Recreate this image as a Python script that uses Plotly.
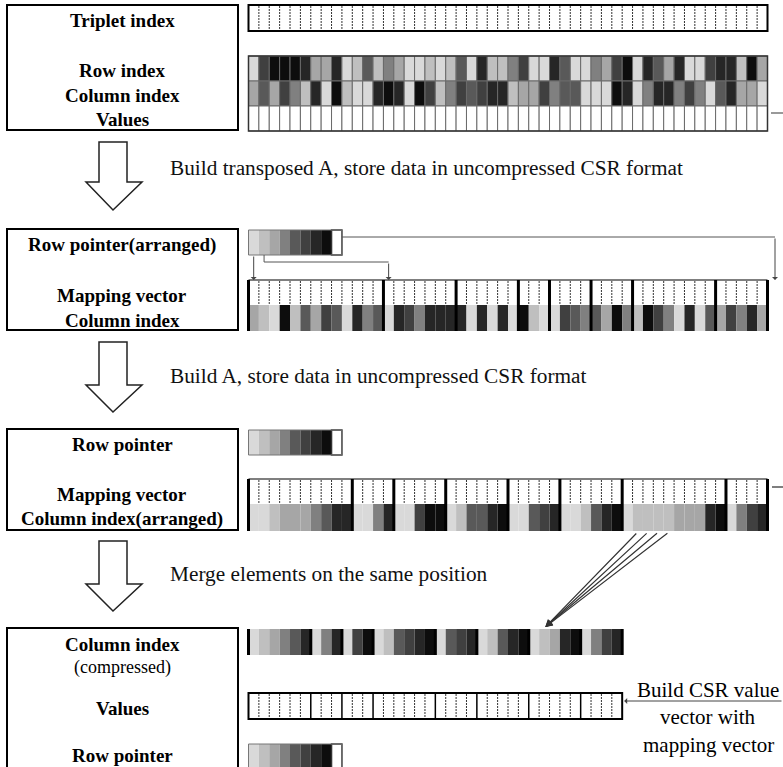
import plotly.graph_objects as go

# ---------------- data ----------------
PALETTE = ["#d9d9d9", "#bfbfbf", "#a6a6a6", "#808080", "#595959", "#404040", "#262626", "#0d0d0d", "#ffffff"]

# Section 1: triplet format (grey level of each entry)
row_index = [0,5,7,7,7,6,2,2,6,0, 1,4,1,3,2,0,0,1,0,1, 4,0,6,1,1,3,5,0,0,6,
             4,0,0,3,2,5,7,0,6,4, 2,6,0,0,5,6,6,1,7,2]
col_index = [2,4,2,5,3,1,6,0,7,1, 0,0,6,7,6,0,7,5,1,3, 5,4,5,6,6,1,2,2,5,3,
             4,4,0,0,0,7,6,0,3,6, 6,3,5,3,0,4,6,2,2,0]

# Row pointer (8 rows + end marker)
row_pointer = [0, 1, 2, 3, 4, 5, 6, 7, 8]

# Section 2: transposed A, uncompressed CSR
t_group_sizes = [13, 7, 6, 3, 4, 4, 8, 5]
t_col_index = [2,1,0,7,1,4,2,5,4,0,6,3,4, 0,6,5,3,6,6,6, 6,0,6,0,6,0, 7,1,0,
               0,5,4,3, 4,2,7,3, 1,7,5,3,0,6,0,4, 2,5,3,6,2]

# Section 3: A, uncompressed CSR (arranged)
a_group_sizes = [10, 4, 5, 6, 5, 6, 10, 4]
a_col_index = [0,0,1,2,2,2,3,4,6,6, 0,0,3,6, 0,0,5,7,7, 0,1,4,4,6,7, 0,0,4,5,6,
               0,0,1,4,6,7, 0,1,1,1,1,2,2,2,6,7, 0,3,5,6]

# Section 4: compressed
c_group_sizes = [6, 3, 3, 6, 4, 5, 5, 4]
c_col_index = [0,1,2,3,4,6, 0,3,6, 0,5,7, 0,1,4,5,6,7, 0,4,5,6, 0,1,4,6,7,
               0,1,2,6,7, 0,3,5,6]

# merged entries shown by the fan of arrows (group 7 of section 3 -> group 7 of section 4)
merge_from_group, merge_from_cells, merge_to_cell = 6, [1, 2, 3, 4], 1

box_labels = [
    [("<b>Triplet index</b>", 20), ("<b>Row index</b>", 70), ("<b>Column index</b>", 95), ("<b>Values</b>", 119)],
    [("<b>Row pointer(arranged)</b>", 245), ("<b>Mapping vector</b>", 295), ("<b>Column index</b>", 320)],
    [("<b>Row pointer</b>", 444), ("<b>Mapping vector</b>", 494), ("<b>Column index(arranged)</b>", 519)],
    [("<b>Column index</b>", 644), ("(compressed)", 667), ("<b>Values</b>", 708), ("<b>Row pointer</b>", 755)],
]
step_texts = [
    ("Build transposed A, store data in uncompressed CSR format", 168),
    ("Build A, store data in uncompressed CSR format", 376),
    ("Merge elements on the same position", 574),
]
side_text = ["Build CSR value", "vector with", "mapping vector"]

# ---------------- layout helpers ----------------
X0 = 248.5
W = 10.38
SERIF = "Liberation Serif"

shapes = []
annotations = []


def rect(x0, y0, x1, y1, fill="rgba(0,0,0,0)", lc="black", lw=0):
    shapes.append(dict(type="rect", xref="x", yref="y", x0=x0, y0=y0, x1=x1, y1=y1,
                       fillcolor=fill, line=dict(color=lc, width=lw), layer="above"))


def line(x0, y0, x1, y1, lc="black", lw=1, dash="solid"):
    shapes.append(dict(type="line", xref="x", yref="y", x0=x0, y0=y0, x1=x1, y1=y1,
                       line=dict(color=lc, width=lw, dash=dash), layer="above"))


def path(d, lc="black", lw=1.5, fill="white"):
    shapes.append(dict(type="path", xref="x", yref="y", path=d, fillcolor=fill,
                       line=dict(color=lc, width=lw), layer="above"))


def arrow(x, y, ax, ay, color="#444", width=1, head=2, size=1.0):
    annotations.append(dict(x=x, y=y, ax=ax, ay=ay, xref="x", yref="y", axref="x", ayref="y",
                            text="", showarrow=True, arrowhead=head, arrowsize=size,
                            arrowwidth=width, arrowcolor=color, standoff=0, startstandoff=0))


def text(s, x, y, size=17, anchor="center", color="black"):
    annotations.append(dict(x=x, y=y, xref="x", yref="y", text=s, showarrow=False,
                            xanchor=anchor, yanchor="middle",
                            font=dict(family=SERIF, size=size, color=color)))


def cx(i):
    return X0 + i * W


def colour_cells(levels, y0, y1, outline=None):
    for i, lv in enumerate(levels):
        rect(cx(i), y0, cx(i + 1), y1, fill=PALETTE[lv],
             lc=outline or PALETTE[lv], lw=1 if outline else 0)


def dashed_cells(n, y0, y1, skip=()):
    for i in range(1, n):
        if i in skip:
            continue
        line(cx(i), y0 + 1, cx(i), y1 - 1, lc="#333", lw=1, dash="2px,1px")


def boundaries(sizes):
    b, s = [0], 0
    for g in sizes:
        s += g
        b.append(s)
    return b


def grouped_strip(sizes, levels, ym, y0, y1, with_mapping=True):
    n = sum(sizes)
    b = boundaries(sizes)
    colour_cells(levels, ym, y1)
    if with_mapping:
        line(cx(0), y0, cx(n), y0, lc="#555", lw=1.5)
        dashed_cells(n, y0, ym, skip=set(b))
    for k in b:
        line(cx(k), y0 if with_mapping else ym, cx(k), y1, lc="black", lw=3)


def row_pointer_strip(y0, y1):
    for i, lv in enumerate(row_pointer):
        rect(cx(i), y0, cx(i + 1), y1, fill=PALETTE[lv], lc=PALETTE[lv], lw=0)
    rect(cx(len(row_pointer) - 1), y0, cx(len(row_pointer)), y1, lc="#333", lw=1.5)
    rect(cx(0), y0, cx(len(row_pointer)), y1, lc="#777", lw=1)


def block_arrow(top, base, tip):
    d = (f"M 99,{top} L 127,{top} L 127,{base} L 142,{base} L 113,{tip} "
         f"L 86,{base} L 99,{base} Z")
    path(d, lc="#222", lw=1.5)


# ---------------- left label boxes ----------------
boxes = [(5, 130), (229, 330), (429, 530), (628, 800)]
for (y0, y1), labels in zip(boxes, box_labels):
    rect(7, y0, 238, y1, fill="white", lc="black", lw=2)
    for s, y in labels:
        text(s, 122, y, size=19 if not s.startswith("(") else 18)

# ---------------- section 1 ----------------
n1 = len(row_index)
rect(cx(0), 5, cx(n1), 31, lc="black", lw=2)
dashed_cells(n1, 5, 31)
colour_cells(row_index, 56, 81, outline="#6a6a6a")
colour_cells(col_index, 81, 106, outline="#6a6a6a")
colour_cells([8] * n1, 106, 131, outline="#6a6a6a")
rect(cx(0), 56, cx(n1), 131, lc="#333", lw=1.5)
line(771, 113, 783, 113, lc="#777", lw=1.5)

# ---------------- section 2 ----------------
row_pointer_strip(230, 255)
grouped_strip(t_group_sizes, t_col_index, 305, 280, 331)
tb = boundaries(t_group_sizes)
# connectors from row pointer to groups
line(cx(len(row_pointer)), 237, 775, 237, lc="#555", lw=1)
arrow(775, 280, 775, 237, head=1)
arrow(cx(0.5), 280, cx(0.5), 255, head=1)
line(cx(1.5), 255, cx(1.5), 262, lc="#555", lw=1)
line(cx(1.5), 262, cx(tb[1] + 0.5), 262, lc="#555", lw=1)
arrow(cx(tb[1] + 0.5), 280, cx(tb[1] + 0.5), 262, head=1)

# ---------------- section 3 ----------------
row_pointer_strip(430, 455)
grouped_strip(a_group_sizes, a_col_index, 504, 479, 531)
line(772, 487, 783, 487, lc="#555", lw=1.5)

# ---------------- section 4 ----------------
grouped_strip(c_group_sizes, c_col_index, 629, 629, 655, with_mapping=False)
nc = len(c_col_index)
cb = boundaries(c_group_sizes)
rect(cx(0), 693, cx(nc), 719, lc="black", lw=2)
dashed_cells(nc, 693, 719, skip=set(cb))
for k in cb[1:-1]:
    line(cx(k), 693, cx(k), 719, lc="black", lw=1.5)
row_pointer_strip(744, 769)

# fan of merge arrows
ab = boundaries(a_group_sizes)
tx = cx(cb[merge_from_group] + merge_to_cell + 0.5) + 1
for c in merge_from_cells:
    sx = cx(ab[merge_from_group] + c + 0.5)
    arrow(tx, 627, sx, 532, color="#333", width=1.2, head=2, size=1.2)

# side arrow and text
arrow(cx(nc) + 2, 701, 783, 701, color="#444", width=1, head=1, size=1)
for s, y in zip(side_text, [690, 717, 745]):
    text(s, 708, y, size=21)

# ---------------- block arrows and step texts ----------------
block_arrow(142, 182, 210)
block_arrow(342, 385, 412)
block_arrow(541, 584, 611)
for s, y in step_texts:
    text(s, 168, y, size=21.3, anchor="left", color="#111")

fig = go.Figure()
fig.update_layout(
    width=783, height=767,
    margin=dict(l=0, r=0, t=0, b=0),
    paper_bgcolor="white", plot_bgcolor="white",
    xaxis=dict(range=[0, 783], visible=False, fixedrange=True),
    yaxis=dict(range=[767, 0], visible=False, fixedrange=True),
    shapes=shapes, annotations=annotations, showlegend=False,
)
fig.write_html("out.html", config={"displayModeBar": False},
               post_script="document.body.style.margin='0';document.body.style.overflow='hidden';")
